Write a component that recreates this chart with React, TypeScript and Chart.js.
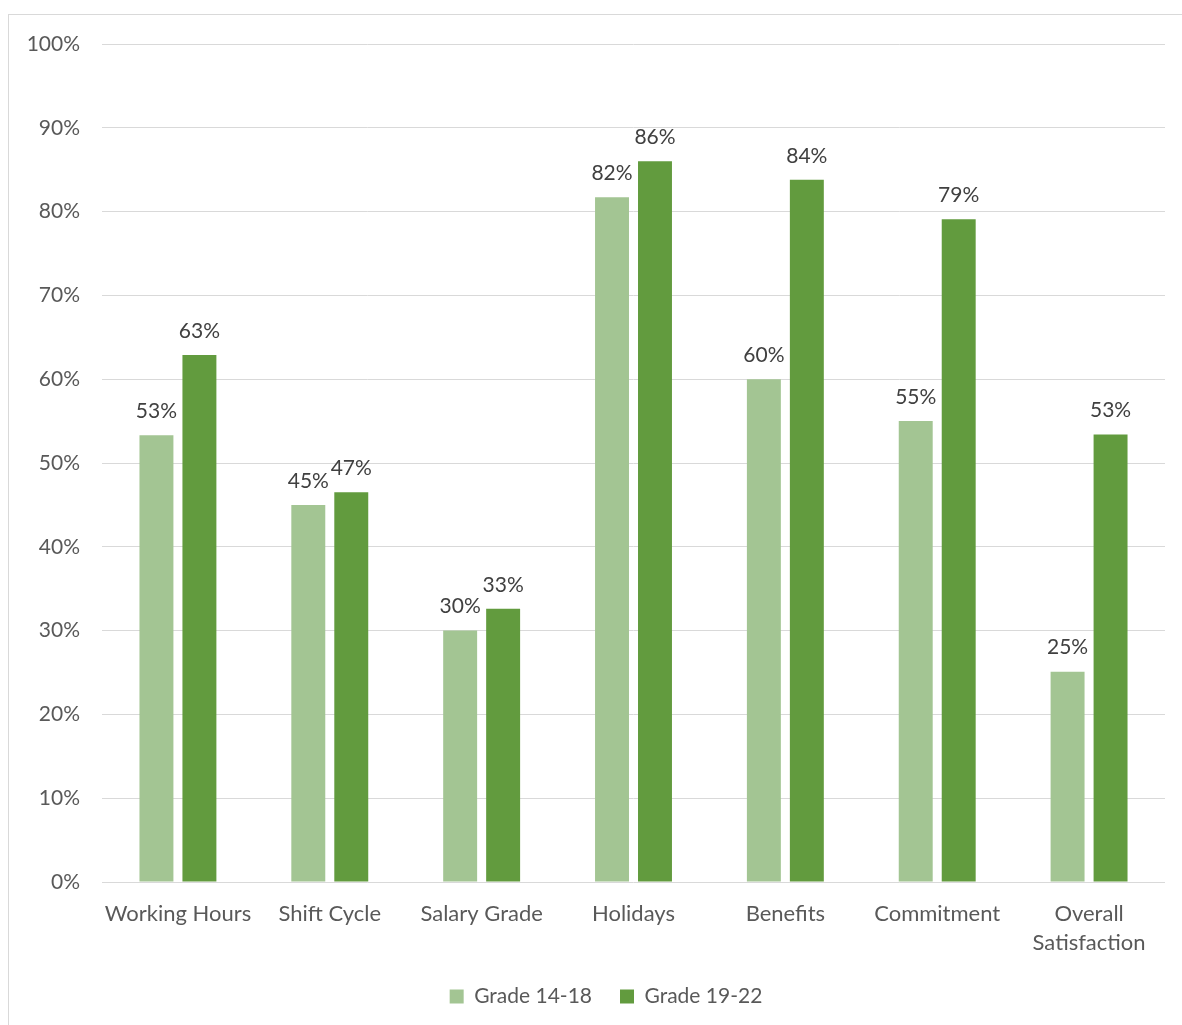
import React, { useEffect, useRef } from "react";
import { Chart, registerables } from "chart.js";

Chart.register(...registerables);

const categories: (string | string[])[] = [
  "Working Hours",
  "Shift Cycle",
  "Salary Grade",
  "Holidays",
  "Benefits",
  "Commitment",
  ["Overall", "Satisfaction"],
];
const grade1418: number[] = [53.3, 45.0, 30.0, 81.7, 60.0, 55.0, 25.1];
const grade1922: number[] = [62.9, 46.5, 32.6, 86.0, 83.8, 79.1, 53.4];
const seriesNames: string[] = ["Grade 14-18", "Grade 19-22"];
const yTicks: number[] = [0, 10, 20, 30, 40, 50, 60, 70, 80, 90, 100];

const FONT = "Lato, 'Open Sans', sans-serif";

const dataLabelPlugin = {
  id: "dataLabels",
  afterLayout(chart: any) {
    const lg = chart.legend;
    if (lg) {
      lg.left = 0;
      lg.right = chart.width;
      lg.width = chart.width;
    }
  },
  afterDatasetsDraw(chart: any) {
    const ctx = chart.ctx;
    ctx.save();
    ctx.font = `21px ${FONT}`;
    ctx.fillStyle = "#404040";
    ctx.textAlign = "center";
    ctx.textBaseline = "middle";
    chart.data.datasets.forEach((ds: any, i: number) => {
      const meta = chart.getDatasetMeta(i);
      meta.data.forEach((bar: any, j: number) => {
        const v = ds.data[j];
        ctx.fillText(Math.round(v) + "%", bar.x, bar.y - 24);
      });
    });
    ctx.restore();
  },
};

export default function App() {
  const ref = useRef<HTMLCanvasElement | null>(null);
  useEffect(() => {
    document.documentElement.style.overflow = "hidden";
    if (!ref.current) return;
    const chart = new Chart(ref.current, {
      type: "bar",
      data: {
        labels: categories,
        datasets: [
          {
            label: seriesNames[0],
            data: grade1418,
            backgroundColor: "#a3c593",
            categoryPercentage: 0.566,
            barPercentage: 0.79,
          },
          {
            label: seriesNames[1],
            data: grade1922,
            backgroundColor: "#629b3e",
            categoryPercentage: 0.566,
            barPercentage: 0.79,
          },
        ],
      },
      options: {
        animation: false,
        responsive: true,
        maintainAspectRatio: false,
        layout: { padding: { top: 29, right: 38, left: 0, bottom: 16 } },
        plugins: {
          tooltip: { enabled: false },
          legend: {
            position: "bottom",
            labels: {
              boxWidth: 14,
              boxHeight: 14,
              padding: 28,
              color: "#595959",
              font: { family: FONT, size: 21 },
            },
          },
        },
        scales: {
          x: {
            grid: { display: false },
            border: { display: false },
            ticks: {
              color: "#595959",
              font: { family: FONT, size: 22, lineHeight: 1.32 },
              padding: 9,
              maxRotation: 0,
              autoSkip: false,
            },
            afterFit: (s: any) => {
              s.height = 76;
            },
          },
          y: {
            min: 0,
            max: 100,
            afterBuildTicks: (s: any) => {
              s.ticks = yTicks.map((v) => ({ value: v }));
            },
            grid: { color: "#d9d9d9", lineWidth: 1, drawTicks: false },
            border: { display: false },
            ticks: {
              color: "#595959",
              font: { family: FONT, size: 21 },
              padding: 22,
              callback: (v: any) => v + "%",
            },
            afterFit: (s: any) => {
              s.width = 93;
              s.paddingTop = 0;
              s.paddingBottom = 0;
            },
          },
        },
      },
      plugins: [dataLabelPlugin],
    });
    return () => chart.destroy();
  }, []);
  return (
    <div
      style={{
        position: "absolute",
        left: 8,
        top: 14,
        width: 1174,
        height: 1011,
        boxSizing: "border-box",
        borderTop: "1px solid #d9d9d9",
        borderLeft: "1px solid #d9d9d9",
        overflow: "hidden",
      }}
    >
      <div style={{ position: "relative", width: 1194, height: 1018 }}>
        <canvas ref={ref} />
      </div>
    </div>
  );
}
